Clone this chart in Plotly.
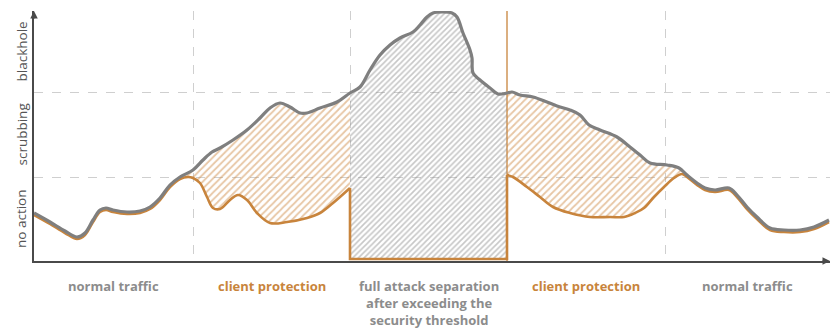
import plotly.graph_objects as go

# ---- data (x: time steps, y: traffic level) ----
gray_x = [0, 16, 31, 43, 51, 59, 66, 72, 79, 93, 106, 116, 126, 136, 146, 159, 169, 178, 186, 199,
          213, 226, 236, 246, 256, 266, 273, 286, 303, 316, 326, 336, 346, 356, 366, 379, 386, 393,
          399, 409, 418, 423, 429, 436, 438, 439, 446, 456, 464, 473, 478, 486, 499, 513, 523, 536,
          546, 555, 566, 583, 596, 606, 616, 633, 645, 653, 663, 671, 681, 695, 703, 713, 723, 736,
          750, 766, 780, 795]
gray_y = [48, 39, 30, 24, 28, 41, 51, 53, 51, 49, 50, 54, 63, 76, 84, 91, 101, 109, 113, 121,
          131, 143, 153, 158, 154, 148, 148, 153, 159, 168, 174, 191, 206, 216, 223, 229, 236, 244,
          248, 249, 248, 244, 228, 211, 203, 188, 181, 173, 167, 168, 169, 166, 164, 159, 155, 151,
          146, 136, 131, 124, 114, 106, 98, 96, 93, 86, 78, 73, 71, 73, 66, 54, 44, 33,
          31, 31, 34, 41]

orange_x = [0, 16, 31, 43, 51, 59, 66, 72, 79, 93, 106, 116, 126, 136, 146, 154, 159, 166, 173, 179,
            186, 196, 204, 213, 223, 236, 253, 273, 286, 299, 316, 316, 473, 473, 479, 493, 506, 519,
            536, 556, 576, 590, 601, 610, 620, 630, 640, 648, 653, 663, 671, 681, 695, 703, 713, 723,
            736, 750, 766, 780, 795]
orange_y = [46, 37, 28, 22, 26, 39, 49, 51, 49, 47, 48, 52, 61, 74, 82, 84, 83, 78, 64, 53,
            52, 61, 66, 61, 48, 38, 39, 43, 48, 58, 73, 2, 2, 86, 84, 74, 64, 54,
            48, 44, 44, 44, 48, 53, 64, 74, 83, 87, 84, 76, 71, 69, 71, 64, 52, 42,
            31, 29, 29, 32, 39]

section_edges = [0, 159, 316, 473, 631, 796]
section_labels = ["normal traffic", "client protection",
                  "full attack separation<br>after exceeding the<br>security threshold",
                  "client protection", "normal traffic"]
section_kind = ["normal", "client", "full", "client", "normal"]
level_edges = [0, 84, 169, 250]
level_labels = ["no action", "scrubbing", "blackhole"]
hatch_spans = [(146, 316, "client"), (316, 473, "full"), (473, 653, "client")]

GRAY = "#7f7f7f"
ORANGE = "#c8843c"
TXT_GRAY = "#8c8c8c"
AXIS = "#4a4a4a"
FONT = "Open Sans"

# ---- split orange into segments at the vertical jumps ----
jumps = [i for i in range(len(orange_x) - 1) if orange_x[i] == orange_x[i + 1]]
j1, j2 = jumps[0], jumps[1]
left = list(zip(orange_x[:j1 + 1], orange_y[:j1 + 1]))
box = list(zip(orange_x[j1:j2 + 2], orange_y[j1:j2 + 2]))
right = list(zip(orange_x[j2 + 1:], orange_y[j2 + 1:]))
gray_pts = list(zip(gray_x, gray_y))


def within(pts, a, b):
    return [p for p in pts if a <= p[0] <= b]


fig = go.Figure()

for a, b, kind in hatch_spans:
    if kind == "full":
        lower = box[1:3]
        shape = "linear"
        col = "#8f8f8f"
        size = 4
        sol = 0.4
    else:
        lower = within(left if b <= 316 else right, a, b)
        shape = "spline"
        col = "#cf8d4a"
        size = 5
        sol = 0.35
    upper = within(gray_pts, a, b)
    fig.add_trace(go.Scatter(x=[p[0] for p in lower], y=[p[1] for p in lower], mode="lines",
                             line=dict(width=0, shape=shape), showlegend=False, hoverinfo="skip"))
    fig.add_trace(go.Scatter(x=[p[0] for p in upper], y=[p[1] for p in upper], mode="lines",
                             line=dict(width=0, shape="spline"), fill="tonexty",
                             fillcolor="rgba(255,255,255,0)",
                             fillpattern=dict(shape="/", fgcolor=col, bgcolor="rgba(255,255,255,0)",
                                              size=size, solidity=sol),
                             showlegend=False, hoverinfo="skip"))

# orange vertical separator line
fig.add_shape(type="line", x0=section_edges[3], x1=section_edges[3], y0=0, y1=level_edges[-1],
              xref="x", yref="y", line=dict(color=ORANGE, width=1.3), layer="below")

# orange line (three pieces)
for seg, shape in ((left, "spline"), (box, "linear"), (right, "spline")):
    fig.add_trace(go.Scatter(x=[p[0] for p in seg], y=[p[1] for p in seg], mode="lines",
                             line=dict(color=ORANGE, width=2.6, shape=shape),
                             showlegend=False, hoverinfo="skip"))

# gray line
fig.add_trace(go.Scatter(x=gray_x, y=gray_y, mode="lines",
                         line=dict(color=GRAY, width=3.2, shape="spline"),
                         showlegend=False, hoverinfo="skip"))

annotations = []
# section labels
for i, lab in enumerate(section_labels):
    cx = (section_edges[i] + section_edges[i + 1]) / 2
    annotations.append(dict(x=cx, y=0, xref="x", yref="paper", yanchor="top", xanchor="center",
                            yshift=-14, showarrow=False, text=lab, align="center",
                            font=dict(family=FONT, size=13, weight=700,
                                      color=ORANGE if section_kind[i] == "client" else TXT_GRAY)))
# level labels
for i, lab in enumerate(level_labels):
    cy = (level_edges[i] + level_edges[i + 1]) / 2
    annotations.append(dict(x=0, y=cy, xref="paper", yref="y", xanchor="center", yanchor="middle",
                            xshift=-13, textangle=-90, showarrow=False, text=lab,
                            font=dict(family=FONT, size=13.5, color="#555555")))
# axis arrows
annotations.append(dict(x=section_edges[-1], y=0, xref="x", yref="y", text="", showarrow=True,
                        ax=-9, ay=0, arrowhead=2, arrowsize=1, arrowwidth=1.5, arrowcolor=AXIS))
annotations.append(dict(x=0, y=level_edges[-1], xref="x", yref="y", text="", showarrow=True,
                        ax=0, ay=9, arrowhead=2, arrowsize=1, arrowwidth=1.5, arrowcolor=AXIS))

fig.update_layout(
    width=837, height=331,
    margin=dict(l=34, r=7, t=11, b=70),
    paper_bgcolor="white", plot_bgcolor="white",
    annotations=annotations,
    xaxis=dict(range=[section_edges[0], section_edges[-1]], showgrid=False, zeroline=False,
               showline=True, linecolor=AXIS, linewidth=1.5, showticklabels=False, ticks="",
               minor=dict(tickmode="array", tickvals=[section_edges[1], section_edges[2], section_edges[4]],
                          showgrid=True, griddash="dash", gridcolor="#cfcfcf", gridwidth=1, ticks="")),
    yaxis=dict(range=[level_edges[0], level_edges[-1]], showgrid=False, zeroline=False,
               showline=True, linecolor=AXIS, linewidth=1.5, showticklabels=False, ticks="",
               minor=dict(tickmode="array", tickvals=level_edges[1:3],
                          showgrid=True, griddash="dash", gridcolor="#cfcfcf", gridwidth=1, ticks="")),
)

fig.write_html("out.html")
